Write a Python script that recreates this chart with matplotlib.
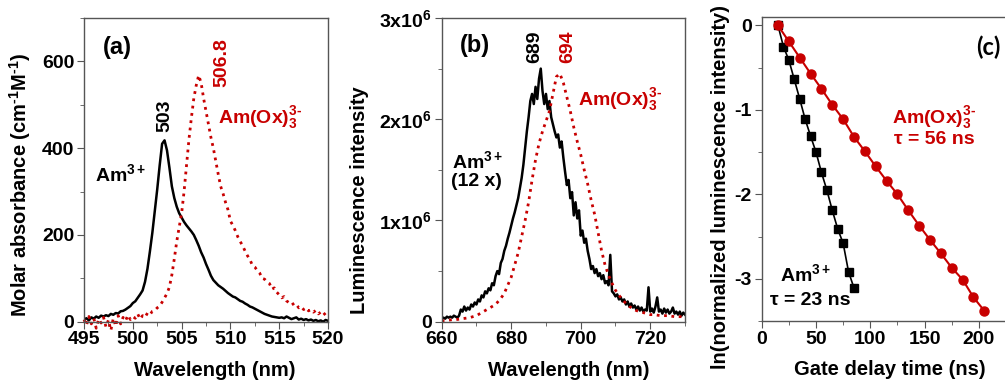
import numpy as np
import matplotlib
matplotlib.use("Agg")
import matplotlib.pyplot as plt
from matplotlib.ticker import MultipleLocator, FixedLocator, FixedFormatter
from matplotlib.font_manager import FontProperties

plt.rcParams['font.family'] = ['Liberation Sans', 'DejaVu Sans']
plt.rcParams['font.weight'] = 'bold'
plt.rcParams['axes.labelweight'] = 'bold'
plt.rcParams['axes.unicode_minus'] = False
plt.rcParams['mathtext.fontset'] = 'custom'
plt.rcParams['mathtext.rm'] = 'Liberation Sans:bold'
plt.rcParams['mathtext.it'] = 'Liberation Sans:bold'
plt.rcParams['mathtext.bf'] = 'Liberation Sans:bold'
plt.rcParams['mathtext.sf'] = 'Liberation Sans:bold'

RED = '#c80000'
GREY = '#555555'

# ---- (a) absorption, 495-520 nm every 0.25 nm ----
wl_a = np.arange(495, 520.001, 0.25)
abs_am = [5, 8, 3, 10, 7, 12, 9, 14, 12, 15,
          13, 18, 16, 20, 19, 24, 25, 28, 32, 36,
          43, 47, 55, 63, 72, 92, 122, 162, 205, 255,
          305, 360, 410, 418, 395, 355, 312, 285, 265, 250,
          240, 230, 222, 215, 208, 200, 188, 175, 160, 148,
          133, 120, 106, 96, 90, 84, 80, 76, 71, 66,
          62, 58, 56, 52, 48, 46, 42, 39, 35, 33,
          30, 27, 24, 21, 18, 16, 14, 12, 11, 10,
          9, 10, 8, 12, 9, 6, 8, 10, 5, 7,
          4, 6, 3, 5, 2, 4, 1, 3, 0, 4,
          2]
abs_ox = [5, -8, 12, -5, 8, -15, 6, -3, 10, -12,
          4, -20, 8, -10, 14, -5, 10, 2, 15, 5,
          12, 8, 18, 6, 14, 10, 20, 16, 24, 26,
          32, 36, 45, 55, 65, 80, 108, 145, 185, 218,
          250, 300, 360, 420, 470, 515, 545, 568, 550, 515,
          485, 455, 425, 400, 370, 340, 312, 295, 275, 258,
          232, 222, 210, 196, 185, 175, 163, 152, 143, 130,
          126, 118, 112, 100, 98, 92, 88, 75, 78, 68,
          62, 55, 58, 48, 44, 46, 38, 40, 32, 35,
          28, 32, 25, 28, 22, 26, 18, 22, 15, 20,
          12]

# ---- (b) luminescence (x1e6) ----
wl_b_am = np.arange(660, 730.001, 0.5)
lum_am = [0.03, 0.04, 0.03, 0.05, 0.04, 0.05, 0.04, 0.06, 0.05, 0.04,
          0.06, 0.12, 0.10, 0.15, 0.11, 0.14, 0.12, 0.17, 0.15, 0.19,
          0.17, 0.22, 0.20, 0.26, 0.24, 0.30, 0.28, 0.33, 0.31, 0.38,
          0.36, 0.45, 0.50, 0.47, 0.58, 0.62, 0.70, 0.75, 0.82, 0.88,
          0.95, 1.02, 1.08, 1.15, 1.22, 1.32, 1.42, 1.55, 1.72, 1.88,
          2.02, 2.18, 2.25, 2.15, 2.32, 2.20, 2.40, 2.50, 2.28, 2.15,
          2.25, 2.10, 2.18, 2.02, 1.95, 1.88, 1.82, 1.85, 1.72, 1.78,
          1.62, 1.48, 1.35, 1.40, 1.22, 1.28, 1.05, 1.18, 1.02, 1.10,
          0.85, 0.90, 0.78, 0.82, 0.70, 0.62, 0.52, 0.55, 0.48, 0.52,
          0.45, 0.48, 0.42, 0.46, 0.38, 0.40, 0.36, 0.66, 0.30, 0.28,
          0.25, 0.27, 0.22, 0.24, 0.20, 0.22, 0.17, 0.20, 0.15, 0.18,
          0.14, 0.16, 0.12, 0.15, 0.11, 0.14, 0.10, 0.12, 0.11, 0.34,
          0.10, 0.13, 0.09, 0.15, 0.24, 0.10, 0.12, 0.08, 0.13, 0.09,
          0.12, 0.08, 0.10, 0.14, 0.08, 0.10, 0.07, 0.10, 0.06, 0.09,
          0.07]
wl_b_ox = np.arange(660, 730.001, 1.0)
lum_ox = [0.01, 0.01, 0.015, 0.02, 0.02, 0.025, 0.03, 0.035, 0.04, 0.05,
          0.06, 0.08, 0.10, 0.12, 0.14, 0.16, 0.19, 0.23, 0.28, 0.36,
          0.44, 0.56, 0.68, 0.84, 1.00, 1.18, 1.40, 1.60, 1.76, 1.88,
          1.98, 2.08, 2.25, 2.42, 2.45, 2.36, 2.22, 2.08, 1.92, 1.78,
          1.65, 1.50, 1.36, 1.20, 1.06, 0.88, 0.70, 0.56, 0.46, 0.38,
          0.31, 0.26, 0.22, 0.18, 0.15, 0.13, 0.11, 0.10, 0.09, 0.08,
          0.07, 0.07, 0.065, 0.06, 0.06, 0.06, 0.055, 0.05, 0.05, 0.05,
          0.05]

# ---- (c) decay ----
t_am = [15, 20, 25, 30, 35, 40, 45, 50, 55, 60, 65, 70, 75, 80, 85]
ln_am = [0, -0.25, -0.41, -0.64, -0.87, -1.11, -1.31, -1.50, -1.74, -1.95,
         -2.19, -2.41, -2.58, -2.92, -3.11]
t_ox = [15, 25, 35, 45, 55, 65, 75, 85, 95, 105, 115, 125, 135, 145, 155,
        165, 175, 185, 195, 205]
ln_ox = [0, -0.19, -0.38, -0.57, -0.75, -0.94, -1.11, -1.32, -1.49, -1.67,
         -1.84, -2.00, -2.19, -2.37, -2.54, -2.70, -2.87, -3.01, -3.22, -3.38]

OX = r'Am(Ox)$_3^{3\text{-}}$'
AM = r'Am$^{3+}$'


def style(ax):
    for s in ax.spines.values():
        s.set_color(GREY)
        s.set_linewidth(1.0)
    ax.tick_params(which='both', direction='out', color=GREY, labelsize=14, pad=2)
    ax.tick_params(which='major', length=5)
    ax.tick_params(which='minor', length=3)


def bold_ticks(ax):
    fp = FontProperties(family='Liberation Sans', weight='bold', size=14)
    for lab in ax.get_xticklabels() + ax.get_yticklabels():
        lab.set_fontproperties(fp)


fig = plt.figure(figsize=(10.05, 3.81), dpi=100)
ax1 = fig.add_axes([0.0836, 0.1556, 0.2428, 0.7972])
ax2 = fig.add_axes([0.4395, 0.1556, 0.2421, 0.7972])
ax3 = fig.add_axes([0.7579, 0.1575, 0.2421, 0.7979])

# (a)
ax1.plot(wl_a, abs_am, color='black', lw=1.8)
ax1.plot(wl_a, abs_ox, color=RED, lw=2, ls=':', clip_on=False)
ax1.set_xlim(495, 520)
ax1.set_ylim(0, 700)
ax1.xaxis.set_major_locator(MultipleLocator(5))
ax1.xaxis.set_minor_locator(MultipleLocator(2.5))
ax1.yaxis.set_major_locator(MultipleLocator(200))
ax1.yaxis.set_minor_locator(MultipleLocator(100))
style(ax1)
ax1.set_xlabel('Wavelength (nm)', fontsize=14.5, va='center')
ax1.xaxis.set_label_coords(0.537, -0.159)
ax1.set_ylabel(r'Molar absorbance (cm$^{\text{-}1}$M$^{\text{-}1}$)', fontsize=14.5, va='center')
ax1.yaxis.set_label_coords(-0.262, 0.45)
ax1.text(0.135, 0.904, '(a)', transform=ax1.transAxes, fontsize=17,
         ha='center', va='center')
ax1.text(503.3, 437, '503', rotation=90, ha='center', va='bottom', fontsize=14)
ax1.text(509.1, 540, '506.8', rotation=90, ha='center', va='bottom',
         fontsize=14, color=RED)
ax1.text(498.7, 339, AM, ha='center', va='center', fontsize=14)
ax1.text(508.7, 471, OX, ha='left', va='center', fontsize=14, color=RED)

# (b)
ax2.plot(wl_b_am, np.array(lum_am) * 1e6, color='black', lw=1.8)
ax2.plot(wl_b_ox, np.array(lum_ox) * 1e6, color=RED, lw=2, ls=':')
ax2.set_xlim(660, 730)
ax2.set_ylim(0, 3e6)
ax2.xaxis.set_major_locator(MultipleLocator(20))
ax2.xaxis.set_minor_locator(MultipleLocator(10))
ax2.yaxis.set_major_locator(FixedLocator([0, 1e6, 2e6, 3e6]))
ax2.yaxis.set_major_formatter(FixedFormatter(['0', '1x10$^6$', '2x10$^6$', '3x10$^6$']))
ax2.yaxis.set_minor_locator(MultipleLocator(0.5e6))
style(ax2)
ax2.set_xlabel('Wavelength (nm)', fontsize=14.5, va='center')
ax2.xaxis.set_label_coords(0.523, -0.159)
ax2.set_ylabel('Luminescence intensity', fontsize=14.5, va='center')
ax2.yaxis.set_label_coords(-0.336, 0.40)
ax2.text(0.137, 0.911, '(b)', transform=ax2.transAxes, fontsize=17,
         ha='center', va='center')
ax2.text(686.8, 2.56e6, '689', rotation=90, ha='center', va='bottom', fontsize=14)
ax2.text(696.3, 2.56e6, '694', rotation=90, ha='center', va='bottom',
         fontsize=14, color=RED)
ax2.text(670.2, 1.59e6, AM, ha='center', va='center', fontsize=14)
ax2.text(670.1, 1.38e6, '(12 x)', ha='center', va='center', fontsize=14)
ax2.text(699.3, 2.19e6, OX, ha='left', va='center', fontsize=14, color=RED)

# (c)
ax3.plot(t_am, ln_am, color='black', lw=1.2, marker='s', ms=5.5)
ax3.plot(t_ox, ln_ox, color=RED, lw=1.5, marker='o', ms=6.5)
ax3.set_xlim(0, 224)
ax3.set_ylim(-3.5, 0.1)
ax3.xaxis.set_major_locator(MultipleLocator(50))
ax3.xaxis.set_minor_locator(MultipleLocator(25))
ax3.yaxis.set_major_locator(MultipleLocator(1))
ax3.yaxis.set_minor_locator(MultipleLocator(0.5))
style(ax3)
ax3.spines['right'].set_visible(False)
ax3.set_xlabel('Gate delay time (ns)', fontsize=14.5, va='center')
ax3.xaxis.set_label_coords(0.527, -0.159)
ax3.set_ylabel('ln(normalized luminescence intensity)', fontsize=14.5, va='center')
ax3.yaxis.set_label_coords(-0.171, 0.44)
ax3.text(0.93, 0.90, '(c)', transform=ax3.transAxes, fontsize=17,
         ha='center', va='center', family=['Lato', 'DejaVu Sans'])
ax3.text(158.7, -1.09, OX, ha='center', va='center', fontsize=14, color=RED)
ax3.text(158.7, -1.35, '\u03c4 = 56 ns', ha='center', va='center',
         fontsize=14, color=RED)
ax3.text(40.2, -2.95, AM, ha='center', va='center', fontsize=14)
ax3.text(44.5, -3.26, '\u03c4 = 23 ns', ha='center', va='center', fontsize=14)

fig.canvas.draw()
for ax in (ax1, ax2, ax3):
    bold_ticks(ax)

fig.savefig('out.png', dpi=100)
